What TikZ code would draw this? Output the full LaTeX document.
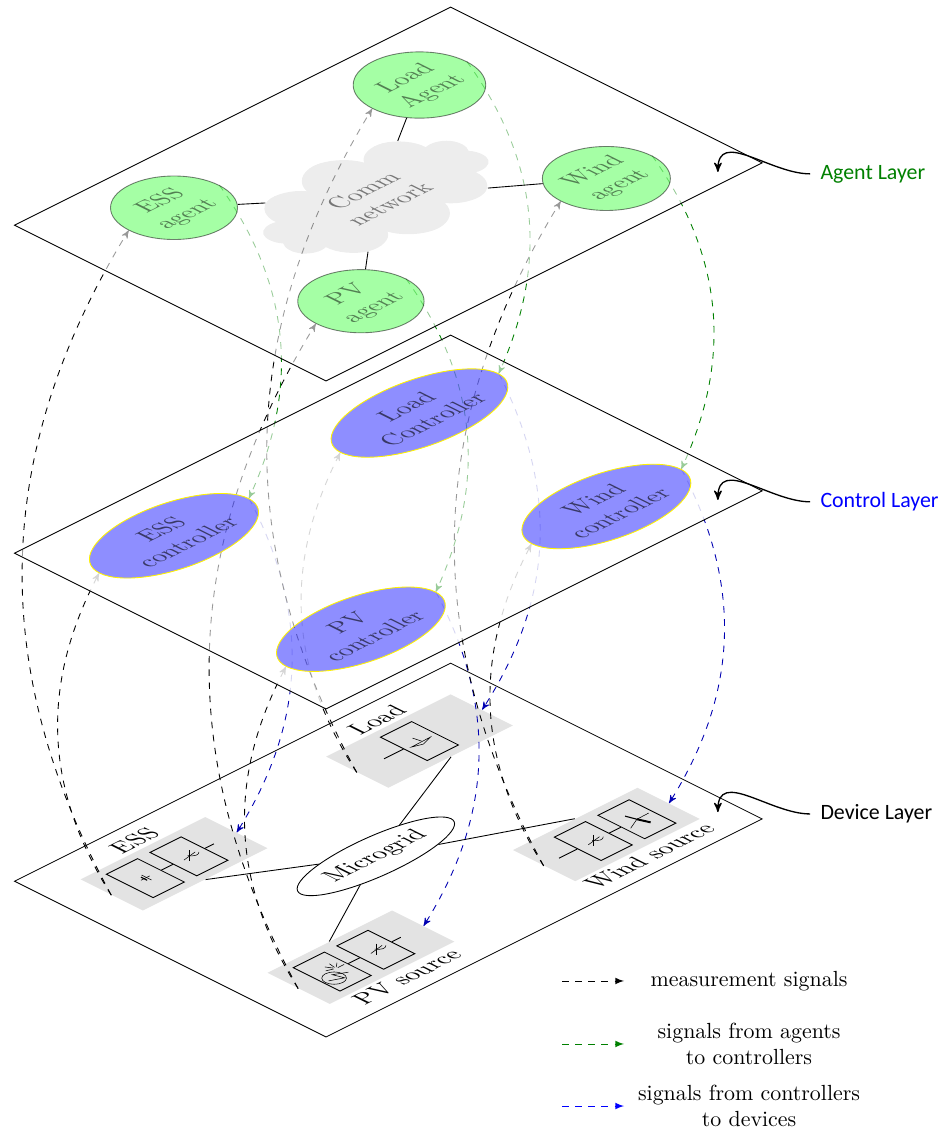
\documentclass[tikz,border=0pt]{standalone}
\usepackage{fontspec}
\setsansfont{Carlito}
\usetikzlibrary{shapes.geometric}
\usetikzlibrary{shapes.symbols}
\usetikzlibrary{positioning}
\usetikzlibrary{arrows}

\pgfdeclarelayer{devices}
\pgfdeclarelayer{lower signals}
\pgfdeclarelayer{veil}
\pgfdeclarelayer{upper signals}
\pgfsetlayers{devices,lower signals,veil,upper signals,main}

\newcommand{\convsym}[1]{
	\begin{scope}[shift={(#1)},line width=.25pt]
	\draw (-.1,-.02) -- (.12,.02);
	\draw (.1,.1) -- (-.08,-.08);
	\draw (0,.02) .. controls (.05,-.05) and (.1,-.06) .. (.15,-.01);
	\end{scope}}
\newcommand{\battsym}[1]{
	\begin{scope}[shift={(#1)},line width=.25pt]
	\draw (-.07,0) -- (.07,0);
	\draw[line width=.5pt] (-.02,-.05) -- (-.02,.05);
	\draw (.02,-.08) -- (.02,.08);
	\end{scope}}
\newcommand{\solarsym}[1]{
	\begin{scope}[shift={(#1)},line width=.25pt]
	\draw (-.09,-.12) circle (.14);
	\foreach \ang in {0,40,...,160}
		\draw (.08,.02) ++(\ang:.03) -- ++(\ang:.1);
	\draw (-.18,-.12) -- (0,-.2) -- (-.05,-.05) -- (.12,-.14);
	\end{scope}}
\newcommand{\windsym}[1]{
	\begin{scope}[shift={(#1)},line width=.25pt]
	\draw (0,0) -- (-.195,-.095);
	\draw[line width=.9pt] (0,0) -- (.06,-.16);
	\draw[line width=.5pt] (0,0) -- (-.045,.145);
	\draw (0,0) -- (.195,.005);
	\end{scope}}
\newcommand{\loadsym}[1]{
	\begin{scope}[shift={(#1)},line width=.25pt]
	\draw (-.008,.104) -- (.016,-.016);
	\draw (-.16,-.032) -- (.152,-.024) -- (-.016,-.08) -- cycle;
	\end{scope}}

\begin{document}
\begin{tikzpicture}[>=stealth',
	tilted/.style={yslant=0.5,xslant=-1,every node/.append style={transform shape}},
	layer plane/.style={draw=black,fill=white,fill opacity=.6},
	agent node/.style={circle,align=center,fill=green,fill opacity=.35,draw=black,draw opacity=.5,text opacity=.5},
	ctrl node/.style={ellipse,align=center,fill=blue,fill opacity=.44,draw=yellow,text opacity=.6},
	comm node/.style={cloud,cloud puffs=10,aspect=1.3,align=center,fill=black,fill opacity=.07,text opacity=.5,minimum width=3.15cm,minimum height=2cm},
	dev node/.style={fill=gray!22,minimum width=2cm,minimum height=1cm},
	unit node/.style={draw,line width=.4pt,minimum width=.5cm,minimum height=.75cm,inner sep=0pt},
	measure/.style={->,dashed,black,bend left=30},
	agent sig/.style={->,dashed,green!50!black,bend left=30},
	ctrl sig/.style={->,dashed,blue!70!black,bend left=30},
	layer name/.style={font=\sffamily,anchor=west,inner sep=.16cm},
	layer tag/.style={semithick,-stealth'},
	legend text/.style={align=center}]

	\useasboundingbox (-5.233,-1.525) rectangle (9.904,16.645);

	\begin{pgfonlayer}{devices}
	\begin{scope}[tilted]
		\draw (0,0) rectangle (7,5);

		\node[dev node] (essdev) at (1.56,4) {};
		\node[dev node] (pvdev) at (1.56,1) {};
		\node[dev node] (loaddev) at (5.5,4) {};
		\node[dev node] (winddev) at (5.5,1) {};

		\node[unit node] (essbatt) at (1.1,4) {};
		\node[unit node] (essconv) at (1.8,4) {};
		\node[unit node] (pvpanel) at (1.1,1) {};
		\node[unit node] (pvconv) at (1.8,1) {};
		\node[unit node] (loadbox) at (5.5,4) {};
		\node[unit node] (windconv) at (5.29,1) {};
		\node[unit node] (windgen) at (5.99,1) {};

		\coordinate (essout) at (2.2,4);
		\coordinate (pvout) at (2.2,1);
		\coordinate (loadout) at (4.93,4);
		\coordinate (windout) at (4.74,1);

		\draw (essbatt) -- (essconv);
		\draw (essconv) -- (essout);
		\draw (pvpanel) -- (pvconv);
		\draw (pvconv) -- (pvout);
		\draw (loadbox) -- (loadout);
		\draw (windconv) -- (windgen);
		\draw (windconv) -- (windout);

		\battsym{1.1,4}
		\convsym{1.8,4}
		\solarsym{1.1,1}
		\convsym{1.8,1}
		\loadsym{5.5,4}
		\convsym{5.29,1}
		\windsym{5.99,1}

		\node (esslabel) [above=-2pt of essdev,xshift=1.5pt] {ESS};
		\node (loadlabel) [above=-2pt of loaddev] {Load};
		\node (pvlabel) [below=-2pt of pvdev,xshift=1.5pt] {PV source};
		\node (windlabel) [below=-2pt of winddev] {Wind source};

		\node[ellipse,draw,inner sep=3pt] (micro) at (3.3,2.5) {Microgrid};
	\end{scope}
	\draw (essdev.south) -- (micro);
	\draw (loaddev.south) -- (micro);
	\draw (pvdev.north) -- (micro);
	\draw (winddev.north) -- (micro);
	\end{pgfonlayer}

	\begin{scope}[yshift=5.265cm,tilted]
		\begin{pgfonlayer}{veil}
		\fill[white,fill opacity=.6] (0,0) rectangle (7,5);
		\end{pgfonlayer}
		\draw[layer plane] (0,0) rectangle (7,5);
		\node[ctrl node] (essctrl) at (1.56,4) {ESS\\controller};
		\node[ctrl node] (pvctrl) at (1.56,1) {PV\\controller};
		\node[ctrl node] (loadctrl) at (5.5,4) {Load\\Controller};
		\node[ctrl node] (windctrl) at (5.5,1) {Wind\\controller};
	\end{scope}

	\begin{scope}[yshift=10.53cm,tilted]
		\draw[layer plane] (0,0) rectangle (7,5);
		\node[agent node] (essagent) at (1.56,4) {ESS\\agent};
		\node[agent node] (pvagent) at (1.56,1) {PV\\agent};
		\node[agent node] (loadagent) at (5.5,4) {Load\\Agent};
		\node[agent node] (windagent) at (5.5,1) {Wind\\agent};
		\node[comm node] (comm) at (3.35,2.55) {Comm\\network};
	\end{scope}
	\draw (essagent) -- (comm);
	\draw (pvagent) -- (comm);
	\draw (loadagent) -- (comm);
	\draw (windagent) -- (comm);

	\begin{pgfonlayer}{lower signals}
	\path[measure]
	(essdev.west) edge (essctrl.west)
	(pvdev.west) edge (pvctrl.west)
	(loaddev.west) edge (loadctrl.west)
	(winddev.west) edge (windctrl.west);

	\path[ctrl sig]
	(essctrl.east) edge (essdev.east)
	(pvctrl.east) edge (pvdev.east)
	(loadctrl.east) edge (loaddev.east)
	(windctrl.east) edge (winddev.east);
	\end{pgfonlayer}

	\begin{pgfonlayer}{upper signals}
	\path[measure]
	(essdev.west) edge (essagent.west)
	(pvdev.west) edge (pvagent.west)
	(loaddev.west) edge (loadagent.west)
	(winddev.west) edge (windagent.west);

	\path[agent sig]
	(essagent.east) edge (essctrl.east)
	(pvagent.east) edge (pvctrl.east)
	(loadagent.east) edge (loadctrl.east)
	(windagent.east) edge (windctrl.east);
	\end{pgfonlayer}

	\node[layer name,text=green!50!black] (agentname) at (7.77,13.854) {Agent Layer};
	\node[layer name,text=blue] (ctrlname) at (7.77,8.59) {Control Layer};
	\node[layer name] (devname) at (7.77,3.58) {Device Layer};
	\coordinate (agenttip) at (6.29,13.884);
	\coordinate (ctrltip) at (6.29,8.62);
	\coordinate (devtip) at (6.29,3.61);
	\draw[layer tag] (agentname.west) .. controls +(-.64,0) and +(0,.7) .. (agenttip);
	\draw[layer tag] (ctrlname.west) .. controls +(-.64,0) and +(0,.7) .. (ctrltip);
	\draw[layer tag] (devname.west) .. controls +(-.64,0) and +(0,.7) .. (devtip);

	\node[legend text] (legmeas) at (6.79,.899) {measurement signals};
	\node[legend text] (legagent) at (6.79,-.112) {signals from agents\\to controllers};
	\node[legend text] (legctrl) at (6.79,-1.108) {signals from controllers\\to devices};
	\coordinate (measfrom) at (3.788,.899);
	\coordinate (measto) at (4.783,.899);
	\coordinate (agentfrom) at (3.788,-.112);
	\coordinate (agentto) at (4.783,-.112);
	\coordinate (ctrlfrom) at (3.788,-1.108);
	\coordinate (ctrlto) at (4.783,-1.108);
	\draw[->,dashed,>=latex] (measfrom) -- (measto);
	\draw[->,dashed,>=latex,green!50!black] (agentfrom) -- (agentto);
	\draw[->,dashed,>=latex,blue] (ctrlfrom) -- (ctrlto);
\end{tikzpicture}
\end{document}
